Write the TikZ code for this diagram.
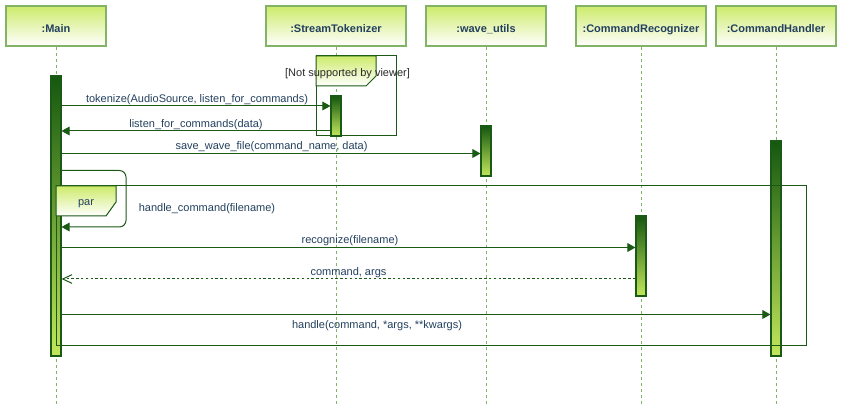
\documentclass[tikz,border=0pt]{standalone}
\usepackage{fontspec}
\setmainfont{Liberation Sans}
\usetikzlibrary{arrows.meta}
\definecolor{hdr}{HTML}{CDEB6B}
\definecolor{hdrb}{HTML}{82B366}
\definecolor{actd}{HTML}{14570F}
\definecolor{actl}{HTML}{C3E75C}
\definecolor{arr}{HTML}{1A5A14}
\definecolor{txt}{HTML}{23405E}
\definecolor{notetxt}{HTML}{2A2A2A}
\begin{document}
\begin{tikzpicture}[x=0.75pt,y=-0.75pt,
  font=\fontsize{8.25}{10}\selectfont,
  header/.style={draw=hdrb, line width=0.9pt, top color=hdr, bottom color=white,
    minimum height=30pt, inner sep=0pt, text height=10.5pt, text depth=0pt,
    font=\fontsize{8.25}{10}\selectfont\bfseries, text=txt},
  lifeline/.style={draw=hdrb, line width=0.75pt, dash pattern=on 2.25pt off 2.25pt},
  actbox/.style={draw=arr, line width=0.8pt, top color=actd, bottom color=actl,
    minimum width=7.5pt, inner sep=0pt},
  msg/.style={draw=arr, line width=0.75pt, -{Triangle[length=6pt,width=6.5pt]}},
  ret/.style={draw=arr, line width=0.75pt, dash pattern=on 1.8pt off 1.8pt,
    -{Straight Barb[length=7pt,width=6.5pt]}},
  lbl/.style={text=txt, inner sep=0pt},
  frame/.style={draw=arr, line width=0.75pt},
  tab/.style={draw=arr, line width=0.75pt, top color=hdr, bottom color=white}
]
\useasboundingbox (0,0) rectangle (843,413);
\fill[white] (0,0) rectangle (843,413);

% headers
\node[header, minimum width=75pt]  (main) at (56,26)  {:Main};
\node[header, minimum width=105pt] (st)   at (336,26) {:StreamTokenizer};
\node[header, minimum width=90pt]  (wu)   at (486,26) {:wave\_utils};
\node[header, minimum width=97.5pt](cr)   at (641,26) {:CommandRecognizer};
\node[header, minimum width=90pt]  (ch)   at (776,26) {:CommandHandler};

% lifeline ends
\coordinate (mainend) at (56,404);
\coordinate (stend) at (336,404);
\coordinate (wuend) at (486,404);
\coordinate (crend) at (641,404);
\coordinate (chend) at (776,404);
\draw[lifeline] (main.south) -- (mainend);
\draw[lifeline] (st.south) -- (stend);
\draw[lifeline] (wu.south) -- (wuend);
\draw[lifeline] (cr.south) -- (crend);
\draw[lifeline] (ch.south) -- (chend);

% note (unsupported)
\node[frame, minimum width=60pt, minimum height=60pt, inner sep=0pt] (note) at (356,96) {};
\path[tab] (316,56) -- (376,56) -- (376,76) -- (366,86) -- (316,86) -- cycle;
\node[text=notetxt, inner sep=0pt] (notelbl) at (347.5,74) {[Not supported by viewer]};

% activations
\node[actbox, minimum height=210pt]  (mainact) at (56,216) {};
\node[actbox, minimum height=30pt]   (stact)   at (336,116) {};
\node[actbox, minimum height=37.5pt] (wuact)   at (486,151) {};
\node[actbox, minimum height=161.25pt] (chact) at (776,248.5) {};
\node[actbox, minimum height=60pt]   (cract)   at (641,256) {};

% par frame
\node[frame, minimum width=562.5pt, minimum height=120pt, inner sep=0pt] (par) at (431,266) {};
\path[tab] (56,186) -- (116,186) -- (116,202) -- (106,216) -- (56,216) -- cycle;
\node[lbl] (parlbl) at (86,204) {par};

% message rows
\coordinate (r1) at (0,106);
\coordinate (r2) at (0,131);
\coordinate (r3) at (0,153.5);
\coordinate (r4a) at (0,170.5);
\coordinate (r4b) at (0,227);
\coordinate (r5) at (0,247.5);
\coordinate (r6) at (0,279);
\coordinate (r7) at (0,314.5);
\coordinate (loopx) at (126,0);

\draw[msg] (mainact.east |- r1) -- (stact.west |- r1);
\node[lbl] at (197,99.5) {tokenize(AudioSource, listen\_for\_commands)};

\draw[msg] (stact.west |- r2) -- (mainact.east |- r2);
\node[lbl] at (196,124.5) {listen\_for\_commands(data)};

\draw[msg] (mainact.east |- r3) -- (wuact.west |- r3);
\node[lbl] at (271.5,146.5) {save\_wave\_file(command\_name, data)};

\draw[msg, rounded corners=5pt] (mainact.east |- r4a) -- (loopx |- r4a) -- (loopx |- r4b) -- (mainact.east |- r4b);
\node[lbl] at (207,208.5) {handle\_command(filename)};

\draw[msg] (mainact.east |- r5) -- (cract.west |- r5);
\node[lbl] at (350,240.5) {recognize(filename)};

\draw[ret] (cract.west |- r6) -- (mainact.east |- r6);
\node[lbl] at (348.5,272.5) {command, args};

\draw[msg] (mainact.east |- r7) -- (chact.west |- r7);
\node[lbl] at (377,325.5) {handle(command, *args, **kwargs)};
\end{tikzpicture}
\end{document}
